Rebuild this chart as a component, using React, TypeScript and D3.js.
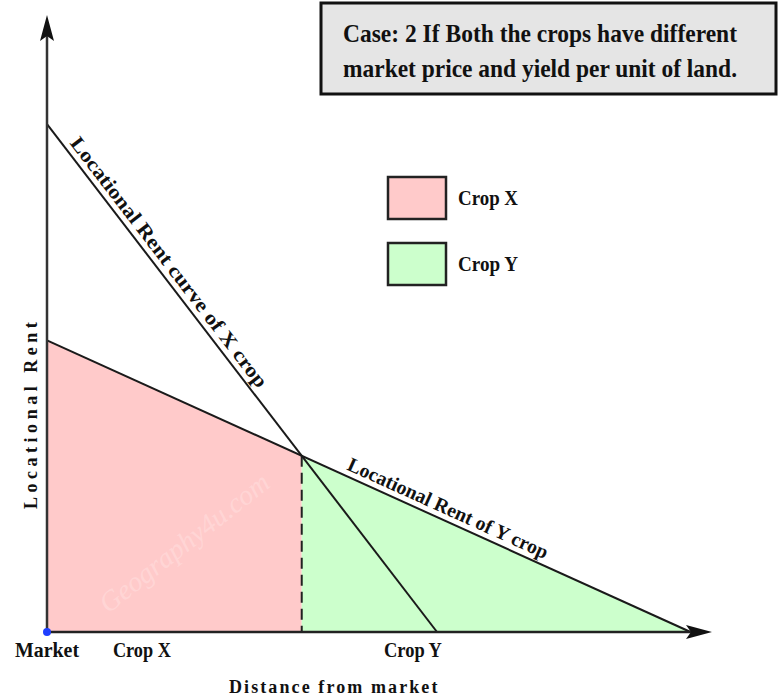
import React from "react";
import * as d3 from "d3";

// ---- data (distance units from market, rent units) ----
const curveX = [
  { d: 0, r: 78.2 },
  { d: 60, r: 0 },
];
const curveY = [
  { d: 0, r: 44.9 },
  { d: 99, r: 0 },
];
const axisMax = { d: 102.3, r: 95 };
const bottomLabels = [
  { d: 0, text: "Market" },
  { d: 14.6, text: "Crop X" },
  { d: 56.3, text: "Crop Y" },
];
const legendItems = [
  { label: "Crop X", color: "#ffcaca" },
  { label: "Crop Y", color: "#ccffcc" },
];
const titleLines = [
  "Case: 2 If Both the crops have different",
  "market price and yield per unit of land.",
];

const W = 779;
const H = 698;
const FONT = "'Liberation Serif', 'Times New Roman', serif";

export default function App() {
  const x = d3.scaleLinear().domain([0, axisMax.d]).range([47, 712]);
  const y = d3.scaleLinear().domain([0, axisMax.r]).range([632, 15]);

  // intersection of the two rent lines
  const sX = (curveX[1].r - curveX[0].r) / (curveX[1].d - curveX[0].d);
  const sY = (curveY[1].r - curveY[0].r) / (curveY[1].d - curveY[0].d);
  const dI = (curveY[0].r - curveX[0].r) / (sX - sY);
  const rI = curveX[0].r + sX * dI;

  const line = d3
    .line<{ d: number; r: number }>()
    .x((p) => x(p.d))
    .y((p) => y(p.r));

  const pinkPoly = [
    { d: 0, r: 0 },
    { d: 0, r: curveY[0].r },
    { d: dI, r: rI },
    { d: dI, r: 0 },
  ];
  const greenPoly = [
    { d: dI, r: 0 },
    { d: dI, r: rI },
    { d: curveY[1].d, r: 0 },
  ];
  const poly = (pts: { d: number; r: number }[]) => line(pts) + "Z";

  const x0 = x(0);
  const y0 = y(0);
  const xEnd = x(axisMax.d);
  const yTop = y(axisMax.r);

  const angX =
    (Math.atan2(y(curveX[1].r) - y(curveX[0].r), x(curveX[1].d) - x(curveX[0].d)) * 180) /
    Math.PI;
  const angY =
    (Math.atan2(y(curveY[1].r) - y(curveY[0].r), x(curveY[1].d) - x(curveY[0].d)) * 180) /
    Math.PI;

  const lxD = 2.7;
  const lxP = [x(lxD), y(curveX[0].r + sX * lxD)];
  const lyD = 45.6;
  const lyP = [x(lyD), y(curveY[0].r + sY * lyD)];

  return (
    <svg
      width={W}
      height={H}
      style={{ position: "absolute", left: 0, top: 0, background: "#fff" }}
      fontFamily={FONT}
    >
      {/* areas */}
      <path d={poly(pinkPoly)} fill={legendItems[0].color} />
      <path d={poly(greenPoly)} fill={legendItems[1].color} />

      {/* watermark */}
      <text
        x={190}
        y={550}
        transform="rotate(-38 190 550)"
        textAnchor="middle"
        fontSize={28}
        fontStyle="italic"
        fill="#ffffff"
        opacity={0.22}
      >
        Geography4u.com
      </text>

      {/* dashed boundary */}
      <line
        x1={x(dI)}
        x2={x(dI)}
        y1={y(rI)}
        y2={y0}
        stroke="#222"
        strokeWidth={2}
        strokeDasharray="11,6"
      />

      {/* rent curves */}
      <path d={line(curveX) || ""} fill="none" stroke="#1a1a1a" strokeWidth={2} />
      <path d={line(curveY) || ""} fill="none" stroke="#1a1a1a" strokeWidth={2} />

      {/* axes */}
      <line x1={x0} x2={x0} y1={y0} y2={yTop + 18} stroke="#333" strokeWidth={2.5} />
      <line x1={x0} x2={xEnd - 18} y1={y0} y2={y0} stroke="#222" strokeWidth={2.5} />
      <path
        d={`M${x0},${yTop} L${x0 + 7},${yTop + 26} L${x0},${yTop + 21} L${x0 - 7},${yTop + 26} Z`}
        fill="#111"
      />
      <path
        d={`M${xEnd},${y0} L${xEnd - 26},${y0 - 7} L${xEnd - 21},${y0} L${xEnd - 26},${y0 + 7} Z`}
        fill="#111"
      />
      <circle cx={x0} cy={y0} r={4} fill="#1f3fff" />

      {/* curve labels */}
      <text
        transform={`translate(${lxP[0]},${lxP[1]}) rotate(${angX}) translate(0,-6)`}
        fontSize={20}
        fontWeight="bold"
        textLength={310}
        lengthAdjust="spacingAndGlyphs"
        fill="#111"
      >
        Locational Rent curve of X crop
      </text>
      <text
        transform={`translate(${lyP[0]},${lyP[1]}) rotate(${angY}) translate(0,-6)`}
        fontSize={20}
        fontWeight="bold"
        textLength={218}
        lengthAdjust="spacingAndGlyphs"
        fill="#111"
      >
        Locational Rent of Y crop
      </text>

      {/* bottom labels */}
      {bottomLabels.map((b) => (
        <text
          key={b.text}
          x={x(b.d)}
          y={657}
          textAnchor="middle"
          fontSize={20}
          fontWeight="bold"
          fill="#111"
          textLength={b.text === "Market" ? 64 : 58}
          lengthAdjust="spacingAndGlyphs"
        >
          {b.text}
        </text>
      ))}
      <text
        x={334}
        y={693}
        textAnchor="middle"
        fontSize={18}
        fontWeight="bold"
        fill="#111"
        letterSpacing={1.6}
        textLength={210}
        lengthAdjust="spacing"
      >
        Distance from market
      </text>
      <text
        transform="translate(37,414) rotate(-90)"
        textAnchor="middle"
        fontSize={18}
        fontWeight="bold"
        fill="#111"
        letterSpacing={3.2}
        textLength={190}
        lengthAdjust="spacing"
      >
        Locational Rent
      </text>

      {/* legend */}
      {legendItems.map((l, i) => (
        <g key={l.label} transform={`translate(388,${177 + i * 66})`}>
          <rect width={58} height={42} fill={l.color} stroke="#222" strokeWidth={2.5} />
          <text
            x={70}
            y={28}
            fontSize={20}
            fontWeight="bold"
            fill="#111"
            textLength={60}
            lengthAdjust="spacingAndGlyphs"
          >
            {l.label}
          </text>
        </g>
      ))}

      {/* title box */}
      <rect x={321} y={3} width={455} height={91} fill="#e5e5e5" stroke="#111" strokeWidth={3} />
      {titleLines.map((t, i) => (
        <text
          key={i}
          x={343}
          y={42 + i * 35}
          fontSize={25}
          fontWeight="bold"
          fill="#111"
          textLength={394}
          lengthAdjust="spacingAndGlyphs"
        >
          {t}
        </text>
      ))}
    </svg>
  );
}
